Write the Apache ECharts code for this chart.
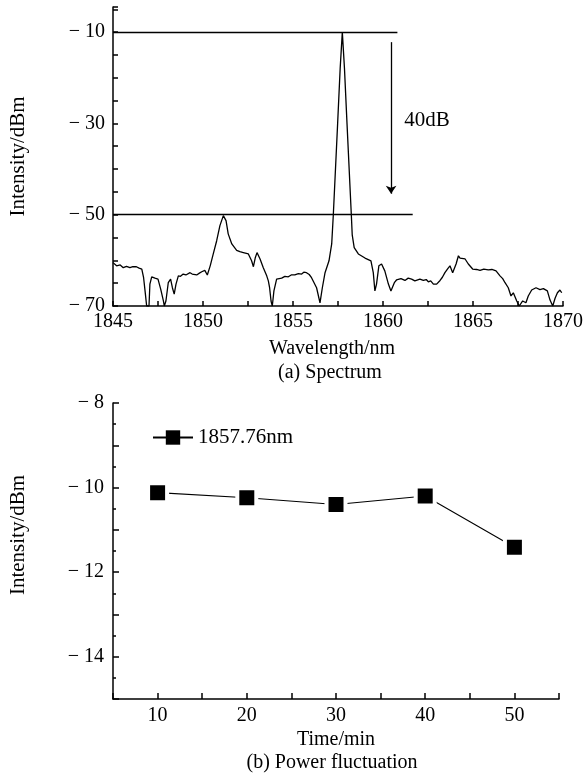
<!DOCTYPE html>
<html>
<head>
<meta charset="utf-8">
<script src="https://cdn.jsdelivr.net/npm/echarts@6/dist/echarts.min.js"></script>
<style>
  html, body { margin: 0; padding: 0; background: #fff; }
  #chart { width: 588px; height: 773px; }
</style>
</head>
<body>
<div id="chart"></div>
<script>
// (a) spectrum trace
const wavelength = [
  1845.0, 1845.2, 1845.4, 1845.57, 1845.75, 1845.94, 1846.1, 1846.3, 1846.45, 1846.6,
  1846.7, 1846.8, 1846.87, 1847.0, 1847.05, 1847.15, 1847.25, 1847.33, 1847.5, 1847.65,
  1847.8, 1847.85, 1847.94, 1848.07, 1848.2, 1848.3, 1848.4, 1848.5, 1848.63, 1848.75,
  1848.9, 1849.05, 1849.15, 1849.28, 1849.4, 1849.5, 1849.65, 1849.8, 1849.93, 1850.1,
  1850.24, 1850.4, 1850.57, 1850.76, 1850.94, 1851.13, 1851.28, 1851.4, 1851.6, 1851.87,
  1852.05, 1852.24, 1852.52, 1852.7, 1852.8, 1852.9, 1853.0, 1853.17, 1853.35, 1853.54,
  1853.63, 1853.7, 1853.78, 1853.85, 1853.94, 1854.09, 1854.2, 1854.37, 1854.55, 1854.74,
  1854.9, 1855.1, 1855.3, 1855.48, 1855.6, 1855.75, 1855.9, 1856.03, 1856.31, 1856.5,
  1856.63, 1856.78, 1857.0, 1857.15, 1857.24, 1857.48, 1857.62, 1857.74, 1857.86, 1858.0,
  1858.24, 1858.29, 1858.4, 1858.63, 1859.0, 1859.33, 1859.46, 1859.55, 1859.64, 1859.77,
  1859.92, 1860.1, 1860.3, 1860.44, 1860.63, 1860.75, 1860.85, 1861.0, 1861.22, 1861.4,
  1861.59, 1861.77, 1861.87, 1862.05, 1862.24, 1862.4, 1862.52, 1862.65, 1862.8, 1862.98,
  1863.17, 1863.3, 1863.44, 1863.6, 1863.72, 1863.87, 1864.06, 1864.19, 1864.28, 1864.37,
  1864.56, 1864.74, 1864.98, 1865.2, 1865.39, 1865.6, 1865.85, 1866.05, 1866.28, 1866.5,
  1866.65, 1866.78, 1866.96, 1867.11, 1867.24, 1867.43, 1867.57, 1867.76, 1867.94, 1868.07,
  1868.26, 1868.5, 1868.72, 1868.91, 1869.13, 1869.28, 1869.43, 1869.56, 1869.69, 1869.83,
  1869.93
];
const intensity = [
  -60.5, -61.2, -61.0, -61.6, -61.3, -61.6, -61.4, -61.4, -61.7, -61.9,
  -63.8, -67.4, -70, -70, -65.2, -63.6, -64.0, -63.9, -64.1, -66.3,
  -68.9, -70, -68.9, -64.9, -64.1, -66.0, -67.4, -65.2, -63.4, -63.5,
  -63.0, -63.2, -62.8, -62.7, -63.0, -62.6, -63.2, -62.8, -62.5, -62.2,
  -63.2, -61.2, -58.6, -55.7, -52.4, -50.2, -51.3, -54.2, -56.4, -57.8,
  -58.1, -58.3, -58.6, -60.1, -61.4, -59.5, -58.3, -59.7, -61.6, -63.4,
  -64.5, -66.0, -68.9, -70, -66.7, -64.1, -63.7, -63.9, -63.5, -63.6,
  -63.2, -63.2, -62.9, -63.0, -62.6, -62.7, -63.1, -63.8, -66.0, -69.3,
  -66.0, -62.7, -60.1, -56.4, -50, -30, -18, -10, -18, -30,
  -50, -54.4, -57.2, -58.6, -59.5, -60.1, -62.7, -66.7, -65.2, -61.2,
  -60.8, -62.3, -65.2, -66.7, -64.9, -64.3, -64.5, -64.0, -64.4, -63.9,
  -64.1, -64.5, -64.5, -64.1, -64.4, -64.2, -64.7, -64.5, -65.2, -65.2,
  -64.4, -63.7, -62.7, -61.8, -61.2, -62.7, -60.8, -59.0, -59.5, -59.2,
  -59.7, -60.8, -61.9, -62.0, -62.2, -61.9, -62.1, -62.0, -62.3, -63.4,
  -64.0, -64.9, -66.0, -67.8, -67.1, -68.9, -70, -68.9, -69.3, -67.8,
  -66.5, -66.0, -66.4, -66.2, -66.7, -68.7, -70, -68.3, -67.1, -66.5,
  -67.1
];

// (b) power fluctuation
const timeMin = [10, 20, 30, 40, 50];
const power = [-10.12, -10.24, -10.4, -10.2, -11.41];
const seriesName = '1857.76nm';

const serif = 'Liberation Serif, Times New Roman, serif';
const minus = v => (v < 0 ? '\u2212 ' + Math.abs(v) : String(v));

const axisCommon = {
  axisLine: { lineStyle: { color: '#000', width: 1.5 } },
  axisTick: { inside: true, length: 5, lineStyle: { color: '#000', width: 1.5 } },
  splitLine: { show: false },
  axisLabel: { color: '#000', fontSize: 20, fontFamily: serif },
  nameTextStyle: { color: '#000', fontSize: 20, fontFamily: serif }
};

const chart = echarts.init(document.getElementById('chart'));
chart.setOption({
  animation: false,
  backgroundColor: '#fff',
  grid: [
    { left: 113, right: 25, top: 7, height: 299 },
    { left: 113, right: 29, top: 403, height: 296 }
  ],
  legend: {
    left: 147,
    top: 422,
    itemWidth: 40,
    itemHeight: 18,
    data: [seriesName],
    itemStyle: { borderWidth: 0 },
    textStyle: { color: '#000', fontSize: 21, fontFamily: serif }
  },
  xAxis: [
    Object.assign({}, axisCommon, {
      type: 'value', gridIndex: 0,
      min: 1845, max: 1870, interval: 2.5,
      name: 'Wavelength/nm', nameLocation: 'middle', nameGap: 33,
      nameTextStyle: Object.assign({}, axisCommon.nameTextStyle, { padding: [0, 12, 0, 0] }),
      axisLabel: Object.assign({}, axisCommon.axisLabel, {
        margin: 6,
        formatter: v => (v % 5 === 0 ? String(v) : '')
      })
    }),
    Object.assign({}, axisCommon, {
      type: 'value', gridIndex: 1,
      min: 5, max: 55, interval: 5,
      name: 'Time/min', nameLocation: 'middle', nameGap: 31,
      axisTick: Object.assign({}, axisCommon.axisTick, { length: 6 }),
      axisLabel: Object.assign({}, axisCommon.axisLabel, {
        margin: 7,
        formatter: v => (v % 10 === 0 && v > 5 && v < 55 ? String(v) : '')
      })
    })
  ],
  yAxis: [
    Object.assign({}, axisCommon, {
      type: 'value', gridIndex: 0,
      min: -70, max: -4.5, interval: 5,
      name: 'Intensity/dBm', nameLocation: 'middle', nameGap: 84,
      nameTextStyle: Object.assign({}, axisCommon.nameTextStyle, { fontSize: 21 }),
      axisLabel: Object.assign({}, axisCommon.axisLabel, {
        margin: 8,
        formatter: v => ((v + 10) % 20 === 0 ? minus(v) : '')
      })
    }),
    Object.assign({}, axisCommon, {
      type: 'value', gridIndex: 1,
      min: -15, max: -8, interval: 1,
      name: 'Intensity/dBm', nameLocation: 'middle', nameGap: 84,
      nameTextStyle: Object.assign({}, axisCommon.nameTextStyle, { fontSize: 21, padding: [0, 0, 0, 32] }),
      axisTick: Object.assign({}, axisCommon.axisTick, { length: 6 }),
      minorTick: { show: true, splitNumber: 2, length: 3, lineStyle: { color: '#000', width: 1.5 } },
      axisLabel: Object.assign({}, axisCommon.axisLabel, {
        margin: 9,
        formatter: v => (v % 2 === 0 ? minus(v) : '')
      })
    })
  ],
  graphic: [
    {
      type: 'text',
      style: { text: '(a) Spectrum', x: 330, y: 373, align: 'center', verticalAlign: 'middle',
               font: '20px ' + serif, fill: '#000' }
    },
    {
      type: 'text',
      style: { text: '(b) Power fluctuation', x: 332, y: 763, align: 'center', verticalAlign: 'middle',
               font: '20px ' + serif, fill: '#000' }
    }
  ],
  series: [
    {
      type: 'line',
      name: 'spectrum',
      xAxisIndex: 0, yAxisIndex: 0,
      data: wavelength.map((w, i) => [w, intensity[i]]),
      showSymbol: false,
      lineStyle: { color: '#000', width: 1.3 },
      silent: true,
      markLine: {
        silent: true,
        symbol: 'none',
        label: { show: false },
        lineStyle: { color: '#000', width: 1.3, type: 'solid' },
        data: [
          [{ coord: [1845, -10] }, { coord: [1860.8, -10] }],
          [{ coord: [1845, -50] }, { coord: [1861.65, -50] }],
          [{ coord: [1860.45, -12.2], symbol: 'none' },
           { coord: [1860.45, -45.4], symbol: 'arrow', symbolSize: 8 }]
        ]
      },
      markPoint: {
        silent: true,
        symbol: 'circle',
        symbolSize: 1,
        itemStyle: { color: 'rgba(0,0,0,0)' },
        label: { show: true, position: 'inside', formatter: '40dB',
                 color: '#000', fontSize: 21, fontFamily: serif },
        data: [{ coord: [1862.44, -29.4] }]
      }
    },
    {
      type: 'line',
      name: seriesName,
      xAxisIndex: 1, yAxisIndex: 1,
      data: timeMin.map((t, i) => [t, power[i]]),
      symbol: 'rect',
      symbolSize: 19,
      lineStyle: { color: '#000', width: 1.1 },
      itemStyle: { color: '#000', borderColor: '#fff', borderWidth: 4 }
    }
  ]
});
</script>
</body>
</html>
